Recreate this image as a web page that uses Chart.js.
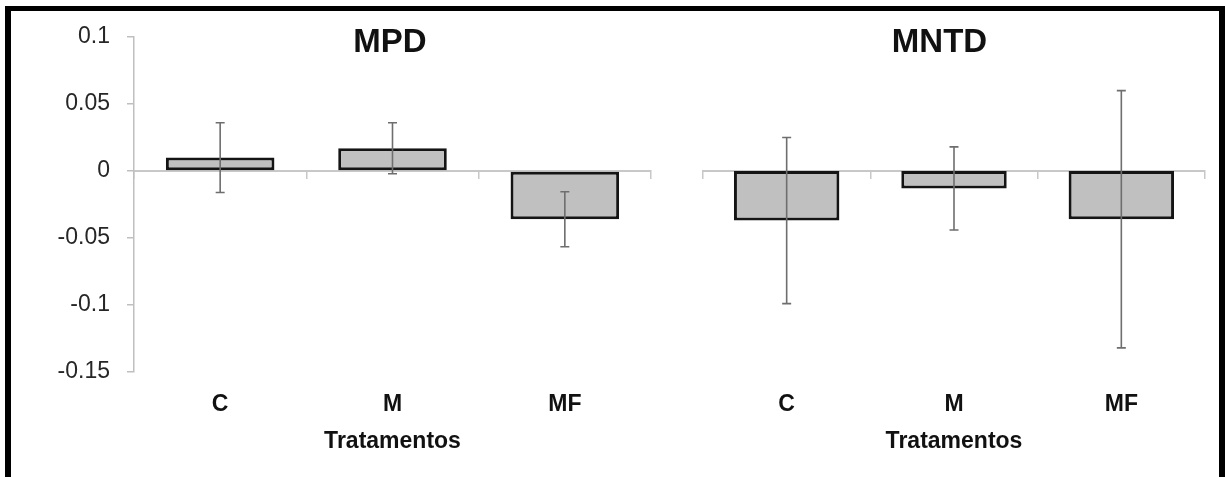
<!DOCTYPE html>
<html lang="pt-BR">
<head>
<meta charset="utf-8">
<script src="https://cdn.jsdelivr.net/npm/chart.js@4.4.1/dist/chart.umd.min.js"></script>
<style>
  html, body { margin: 0; padding: 0; background: #fff; }
  body { width: 1225px; height: 477px; position: relative; overflow: hidden; }
  #moldura {
    position: absolute; left: 5px; top: 6px; width: 1208px; height: 480px;
    border: 6px solid #000; border-top-width: 5px; border-bottom: none;
  }
  .painel { position: absolute; top: 11px; height: 466px; }
  #painelMPD { left: 11px; width: 758px; }
  #painelMNTD { left: 660px; width: 559px; }
</style>
</head>
<body>
<div id="moldura"></div>
<div class="painel" id="painelMPD"><canvas id="graficoMPD"></canvas></div>
<div class="painel" id="painelMNTD"><canvas id="graficoMNTD"></canvas></div>
<script>
// tratamentos
const categorias = ["C", "M", "MF"];

// médias e erros de cada índice
const mpdMedias = [0.01, 0.017, -0.036];
const mpdErros = [0.026, 0.019, 0.0205];
const mntdMedias = [-0.037, -0.013, -0.036];
const mntdErros = [0.062, 0.031, 0.096];

// marcas do eixo y
const yTicks = [-0.15, -0.1, -0.05, 0, 0.05, 0.1];

Chart.defaults.font.family = '"Liberation Sans", Arial, sans-serif';
Chart.defaults.animation = false;

// desenha as barras de erro (média ± erro) por cima das barras
const barrasDeErro = {
  id: "barrasDeErro",
  afterDatasetsDraw(chart) {
    const ctx = chart.ctx;
    const y = chart.scales.y;
    const dataset = chart.data.datasets[0];
    const meta = chart.getDatasetMeta(0);
    ctx.save();
    ctx.strokeStyle = "#6e6e6e";
    ctx.lineWidth = 1.6;
    meta.data.forEach(function (barra, i) {
      const media = dataset.data[i];
      const erro = dataset.erros[i];
      const topo = y.getPixelForValue(media + erro);
      const base = y.getPixelForValue(media - erro);
      ctx.beginPath();
      ctx.moveTo(barra.x, topo);
      ctx.lineTo(barra.x, base);
      ctx.moveTo(barra.x - 4.5, topo);
      ctx.lineTo(barra.x + 4.5, topo);
      ctx.moveTo(barra.x - 4.5, base);
      ctx.lineTo(barra.x + 4.5, base);
      ctx.stroke();
    });
    ctx.restore();
  },
};

// larguraEsq / larguraDir: espaço reservado à esquerda e à direita da área do gráfico
function montarConfig(titulo, medias, erros, mostrarEixoY, larguraEsq, larguraDir) {
  return {
    type: "bar",
    data: {
      labels: categorias,
      datasets: [
        {
          label: titulo,
          data: medias,
          erros: erros,
          backgroundColor: "#c0c0c0",
          borderColor: "#141414",
          borderWidth: 3,
          borderSkipped: false,
          categoryPercentage: 1,
          barPercentage: 0.63,
        },
      ],
    },
    options: {
      responsive: true,
      maintainAspectRatio: false,
      layout: { padding: 0 },
      plugins: {
        legend: { display: false },
        tooltip: { enabled: false },
        title: {
          display: true,
          text: titulo,
          color: "#111",
          font: { size: 33, weight: "bold" },
          padding: { top: 12, bottom: -25.6 },
        },
      },
      scales: {
        x: {
          grid: { display: false, drawTicks: false },
          border: { display: false },
          ticks: { color: "#111", font: { size: 23, weight: "bold" }, padding: 19 },
          title: {
            display: true,
            text: "Tratamentos",
            color: "#111",
            font: { size: 23, weight: "bold" },
            padding: { top: 0, bottom: 22 },
          },
          afterFit: function (scale) {
            scale.height = 105;
          },
        },
        // linha do zero com as marcas entre tratamentos
        x2: {
          type: "category",
          position: { y: 0 },
          offset: true,
          grid: { offset: true, drawOnChartArea: false, tickLength: 7, color: "#c8c8c8", lineWidth: 1.5 },
          border: { color: "#c8c8c8", width: 2 },
          ticks: { display: false },
        },
        y: {
          display: mostrarEixoY,
          min: -0.15,
          max: 0.1,
          afterBuildTicks: function (scale) {
            scale.ticks = yTicks.map(function (v) { return { value: v }; });
          },
          afterFit: function (scale) {
            scale.width = larguraEsq;
            scale.paddingTop = 0;
            scale.paddingBottom = 0;
          },
          grid: { drawOnChartArea: false, tickLength: 7, color: "#bfbfbf", lineWidth: 1.5 },
          border: { color: "#bfbfbf", width: 1.5 },
          ticks: {
            color: "#262626",
            font: { size: 23 },
            padding: 17,
            callback: function (v) { return String(v); },
          },
        },
        // eixo vazio à direita, só ocupa espaço
        yDireita: {
          display: false,
          position: "right",
          afterFit: function (scale) {
            scale.width = larguraDir;
          },
        },
      },
    },
    plugins: [barrasDeErro],
  };
}

function generateChart(config, canvasId) {
  const canvas = document.getElementById(canvasId);
  if (!canvas) {
    throw new Error("Cannot find a canvas element with id ".concat(canvasId));
  }
  return new Chart(canvas, config);
}

const graficoMPD = generateChart(montarConfig("MPD", mpdMedias, mpdErros, true, 123, 118), "graficoMPD");
const graficoMNTD = generateChart(montarConfig("MNTD", mntdMedias, mntdErros, false, 43, 14), "graficoMNTD");
</script>
</body>
</html>
